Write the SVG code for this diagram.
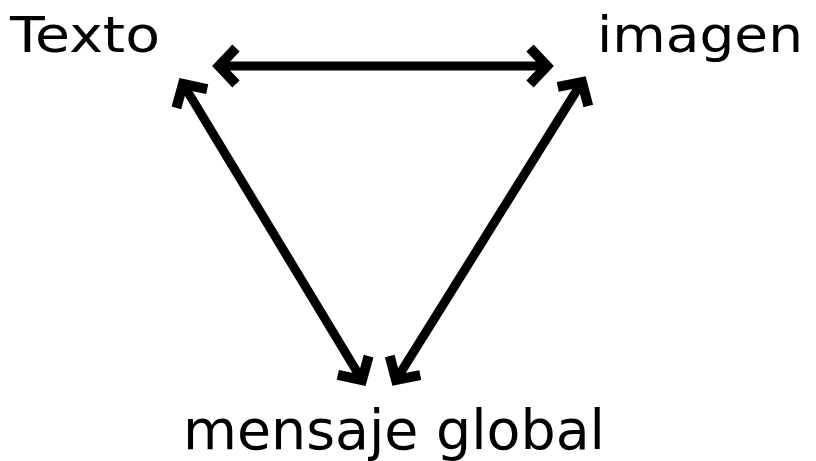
<svg xmlns="http://www.w3.org/2000/svg" width="816" height="461" viewBox="0 0 816 461">
<style>
.lbl{font-family:"DejaVu Sans","Liberation Sans",sans-serif;fill:#000}
.con{stroke:#000;stroke-width:9;fill:none}
</style>
<defs>
<marker id="head" markerUnits="userSpaceOnUse" markerWidth="40" markerHeight="40" viewBox="-30 -20 40 40" refX="0" refY="0" orient="auto-start-reverse" overflow="visible">
<path d="M -17 -18 L 0 0 L -17 18" stroke="#000" stroke-width="10" fill="none" stroke-linejoin="miter" stroke-miterlimit="10"/>
</marker>
</defs>
<rect width="816" height="461" fill="#fff"/>
<g id="texto"><text class="lbl" x="10" y="52" font-size="50" textLength="150" lengthAdjust="spacingAndGlyphs">Texto</text></g>
<g id="imagen"><text class="lbl" x="597" y="52" font-size="50" textLength="206" lengthAdjust="spacingAndGlyphs">imagen</text></g>
<g id="mensaje"><text class="lbl" x="183" y="449" font-size="56" textLength="422" lengthAdjust="spacingAndGlyphs">mensaje global</text></g>
<g id="connectors">
<line class="con" x1="219" y1="66" x2="547" y2="66" marker-start="url(#head)" marker-end="url(#head)"/>
<line class="con" x1="183" y1="84" x2="362" y2="380" marker-start="url(#head)" marker-end="url(#head)"/>
<line class="con" x1="582" y1="82" x2="396" y2="380" marker-start="url(#head)" marker-end="url(#head)"/>
</g>
</svg>
